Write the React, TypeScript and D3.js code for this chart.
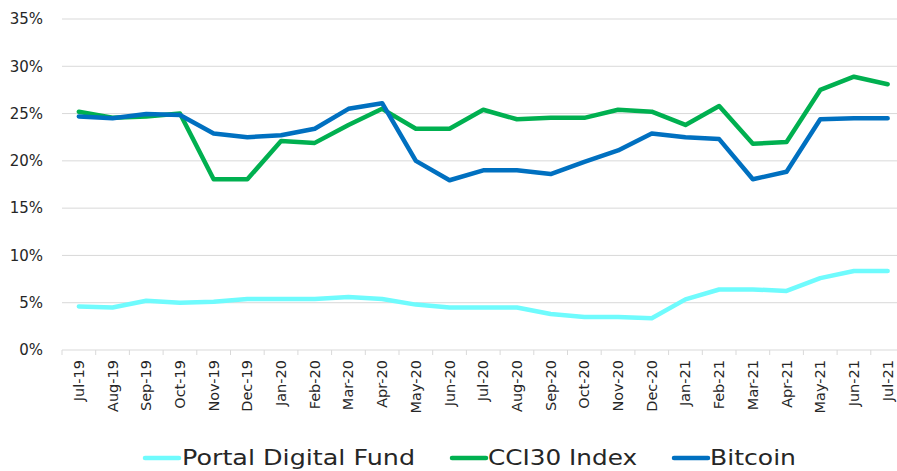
import React from 'react';
import * as d3 from 'd3';

const months = ['Jul-19', 'Aug-19', 'Sep-19', 'Oct-19', 'Nov-19', 'Dec-19', 'Jan-20', 'Feb-20', 'Mar-20', 'Apr-20', 'May-20', 'Jun-20', 'Jul-20', 'Aug-20', 'Sep-20', 'Oct-20', 'Nov-20', 'Dec-20', 'Jan-21', 'Feb-21', 'Mar-21', 'Apr-21', 'May-21', 'Jun-21', 'Jul-21'];

const portal = [4.6, 4.5, 5.2, 5.0, 5.1, 5.4, 5.4, 5.4, 5.6, 5.4, 4.8, 4.5, 4.5, 4.5, 3.8, 3.5, 3.5, 3.35, 5.35, 6.4, 6.4, 6.25, 7.6, 8.35, 8.35];
const cci30 = [25.2, 24.55, 24.7, 25.0, 18.05, 18.05, 22.1, 21.9, 23.8, 25.5, 23.4, 23.4, 25.4, 24.4, 24.55, 24.55, 25.4, 25.2, 23.8, 25.8, 21.8, 22.0, 27.5, 28.9, 28.1];
const bitcoin = [24.7, 24.5, 24.95, 24.85, 22.9, 22.5, 22.7, 23.4, 25.5, 26.1, 20.0, 17.95, 19.0, 19.0, 18.6, 19.9, 21.1, 22.9, 22.5, 22.3, 18.05, 18.85, 24.4, 24.5, 24.5];

const yTicks = [0, 5, 10, 15, 20, 25, 30, 35];

const seriesList = [
  { name: 'Portal Digital Fund', values: portal, color: '#6ffbfd' },
  { name: 'CCI30 Index', values: cci30, color: '#00b050' },
  { name: 'Bitcoin', values: bitcoin, color: '#0070c0' },
];

const W = 897;
const H = 471;
const FONT = "'DejaVu Sans', 'Noto Sans', sans-serif";

export default function App() {
  // band scale, last band runs past the right edge like the original
  const x = d3.scaleBand().domain(months).range([62, 62 + 25 * 33.7]);
  const y = d3.scaleLinear().domain([0, 35]).range([350, 19]);

  const line = d3.line<number>()
    .x((d, i) => (x(months[i]) as number) + x.bandwidth() / 2)
    .y(d => y(d));

  // legend layout (swatch start, text start, text width)
  const legendPos = [
    { swatch: 145, text: 182, w: 233 },
    { swatch: 452, text: 488, w: 149 },
    { swatch: 674, text: 710, w: 86 },
  ];

  return (
    <svg width={W} height={H} style={{ position: 'absolute', left: 0, top: 0, background: '#fff' }}>
      {/* gridlines */}
      {yTicks.map(t => (
        <line key={t} x1={62} x2={W} y1={y(t)} y2={y(t)} stroke="#d9d9d9" strokeWidth={1} />
      ))}
      {/* y labels */}
      {yTicks.map(t => (
        <text key={'l' + t} x={43} y={y(t)} dy="0.35em" textAnchor="end" fontSize={15} fill="#262626" fontFamily={FONT}>
          {t + '%'}
        </text>
      ))}
      {/* x tick marks */}
      {months.map(m => (
        <line key={'t' + m} x1={x(m) as number} x2={x(m) as number} y1={350} y2={355} stroke="#d9d9d9" />
      ))}
      {/* x labels */}
      {months.map(m => {
        const cx = (x(m) as number) + x.bandwidth() / 2;
        return (
          <text key={'x' + m} transform={`translate(${cx + 5},360) rotate(-90)`} textAnchor="end" fontSize={14.5} fill="#262626" fontFamily={FONT}>
            {m}
          </text>
        );
      })}
      {/* series */}
      {seriesList.map(s => (
        <path key={s.name} d={line(s.values) || ''} fill="none" stroke={s.color} strokeWidth={4.5} strokeLinejoin="round" strokeLinecap="round" />
      ))}
      {/* legend */}
      {seriesList.map((s, i) => (
        <g key={'lg' + s.name}>
          <line x1={legendPos[i].swatch} x2={legendPos[i].swatch + 34} y1={458} y2={458} stroke={s.color} strokeWidth={4.5} strokeLinecap="round" />
          <text x={legendPos[i].text} y={458} dy="0.35em" fontSize={21} fill="#262626" fontFamily={FONT}
            textLength={legendPos[i].w} lengthAdjust="spacingAndGlyphs">
            {s.name}
          </text>
        </g>
      ))}
    </svg>
  );
}
